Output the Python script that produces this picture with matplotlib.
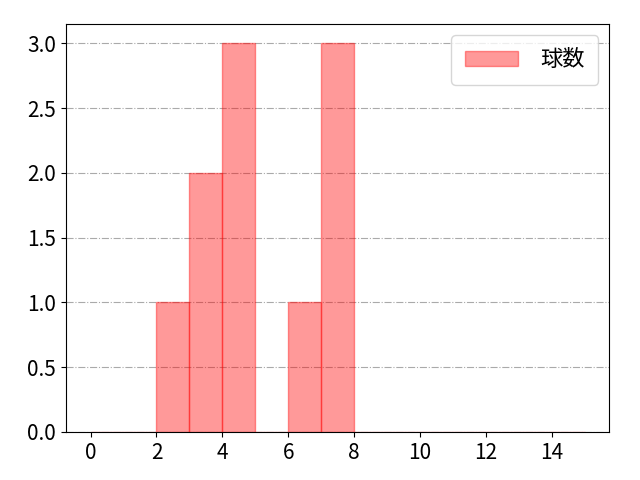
import matplotlib
matplotlib.use('Agg')
import matplotlib.pyplot as plt
import numpy as np

plt.rcParams['font.family'] = ['Noto Sans CJK JP', 'DejaVu Sans']

bin_edges = np.arange(0, 16)
counts = [0, 0, 1, 2, 3, 0, 1, 3, 0, 0, 0, 0, 0, 0, 0]
label = '球数'
xtick_vals = np.arange(0, 15, 2)

fig, ax = plt.subplots(figsize=(6.4, 4.8), dpi=100)
ax.hist(bin_edges[:-1], bins=bin_edges, weights=counts,
        color='red', alpha=0.4, edgecolor='red', label=label)
ax.set_xticks(xtick_vals)
ax.grid(axis='y', linestyle='-.', color='#aaaaaa')
ax.set_axisbelow(True)
ax.tick_params(labelsize=15)
ax.legend(fontsize=16, loc='upper right', handlelength=2.4, handleheight=0.7,
          borderpad=0.6, handletextpad=1.0)
fig.subplots_adjust(left=0.103, right=0.952, top=0.95, bottom=0.1)
plt.savefig('out.png')
